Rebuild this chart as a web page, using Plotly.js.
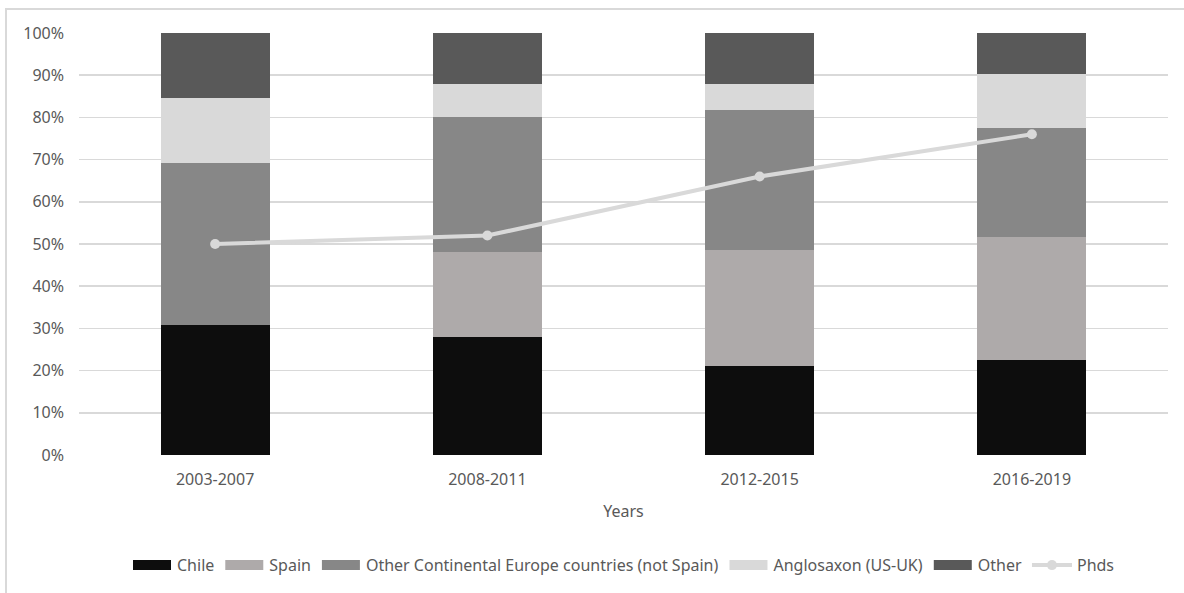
<!DOCTYPE html>
<html>
<head>
<meta charset="utf-8">
<script src="https://cdn.plot.ly/plotly-3.0.1.min.js"></script>
<style>
html,body{margin:0;padding:0;background:#fff;}
#chart{width:1184px;height:593px;}
#frame{position:absolute;left:5px;top:8px;width:1200px;height:600px;border:2px solid #d9d9d9;box-sizing:border-box;pointer-events:none;}
</style>
</head>
<body>
<div id="chart"></div>
<div id="frame"></div>
<script>
var categories = ["2003-2007", "2008-2011", "2012-2015", "2016-2019"];
var chile = [30.8, 28.0, 21.2, 22.6];
var spain = [0, 20.0, 27.3, 29.0];
var otherEurope = [38.5, 32.0, 33.3, 25.8];
var anglosaxon = [15.4, 8.0, 6.1, 12.9];
var other = [15.4, 12.0, 12.1, 9.7];
var phds = [50, 52, 66, 76];

var seriesNames = ["Chile", "Spain", "Other Continental Europe countries (not Spain)", "Anglosaxon (US-UK)", "Other"];
var seriesValues = [chile, spain, otherEurope, anglosaxon, other];
var seriesColors = ["#0d0d0d", "#aeaaaa", "#878787", "#d9d9d9", "#595959"];

var traces = seriesNames.map(function(n, i){
  return {type:"bar", name:n, x:categories, y:seriesValues[i],
    marker:{color:seriesColors[i], line:{width:0}}, hoverinfo:"name+y"};
});
traces.push({type:"scatter", mode:"lines+markers", name:"Phds", x:categories, y:phds,
  line:{color:"#d9d9d9", width:4}, marker:{color:"#d9d9d9", size:10}});

var font = {family:"Noto Sans, sans-serif", size:16, color:"#595959"};
var layout = {
  width:1184, height:593,
  margin:{l:79, r:16, t:33, b:137},
  barmode:"stack", bargap:0.6,
  paper_bgcolor:"#fff", plot_bgcolor:"#fff",
  font:font,
  showlegend:true,
  legend:{orientation:"h", x:0.5, xanchor:"center", y:-0.218, yanchor:"top", font:font,
    traceorder:"normal", itemwidth:40, tracegroupgap:0},
  xaxis:{type:"category", showgrid:false, zeroline:false, showline:false, ticks:"",
    tickfont:font, ticklabelstandoff:13,
    title:{text:"Years", font:{family:"Noto Sans, sans-serif", size:16, color:"#595959"}, standoff:16}},
  yaxis:{range:[0,100], dtick:10, ticksuffix:"%", showgrid:true, gridcolor:"#d9d9d9", gridwidth:1.5,
    zeroline:false, showline:false, ticks:"", tickfont:font, ticklabelstandoff:14}
};
Plotly.newPlot("chart", traces, layout, {displayModeBar:false, staticPlot:true}).then(function(gd){
  var groups = gd.querySelectorAll(".legend .traces");
  groups.forEach(function(g, i){
    if (i < seriesNames.length) {
      g.querySelectorAll(".legendpoints path").forEach(function(p){
        p.setAttribute("d", "M-19,5H19V-5H-19Z");
      });
    }
  });
});
</script>
</body>
</html>
